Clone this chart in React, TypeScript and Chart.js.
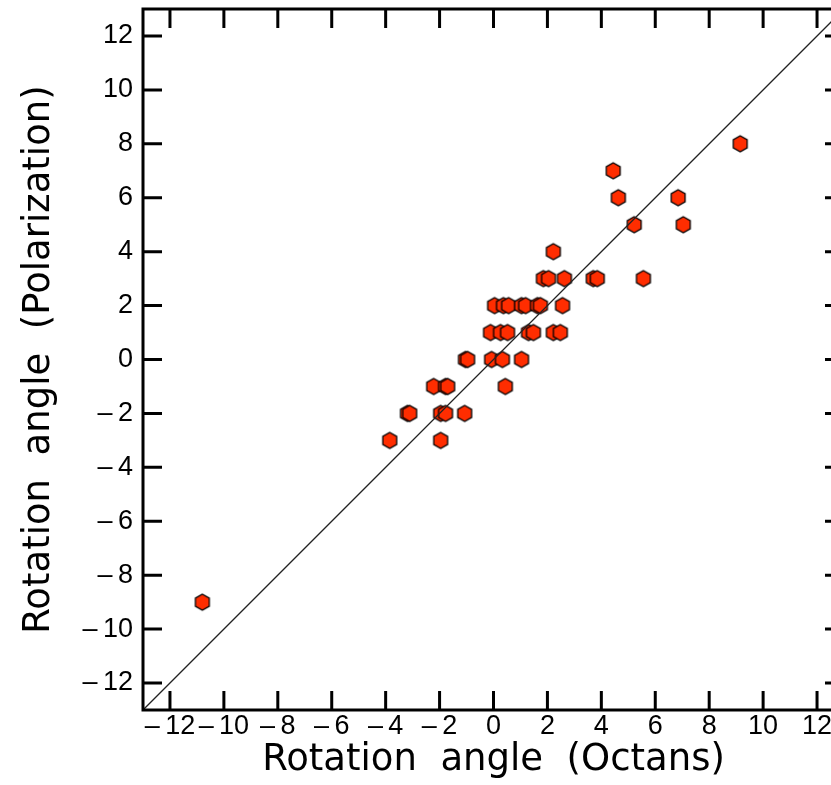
import React, { useEffect, useRef } from "react";
import { Chart, registerables } from "chart.js";

Chart.register(...registerables);

// Data
const octans = [
  -10.8,
  -3.85, -1.96,
  -3.19, -3.11, -1.96, -1.78, -1.07,
  -2.22, -1.78, -1.7, 0.44,
  -1.04, -0.96, -0.07, 0.33, 1.04,
  -0.11, 0.26, 0.52, 1.3, 1.48, 2.22, 2.48,
  0.04, 0.37, 0.56, 1.04, 1.19, 1.63, 1.74, 2.56,
  1.85, 2.04, 2.63, 3.7, 3.85, 5.56,
  2.22,
  5.22, 7.04,
  4.63, 6.85,
  4.44,
  9.15,
];
const polarization = [
  -9,
  -3, -3,
  -2, -2, -2, -2, -2,
  -1, -1, -1, -1,
  0, 0, 0, 0, 0,
  1, 1, 1, 1, 1, 1, 1,
  2, 2, 2, 2, 2, 2, 2, 2,
  3, 3, 3, 3, 3, 3,
  4,
  5, 5,
  6, 6,
  7,
  8,
];
const lineX = [-13, 13];
const lineY = [-13, 13];
const xTicks = [-12, -10, -8, -6, -4, -2, 0, 2, 4, 6, 8, 10, 12];
const yTicks = [-12, -10, -8, -6, -4, -2, 0, 2, 4, 6, 8, 10, 12];
const xTitle = "Rotation  angle  (Octans)";
const yTitle = "Rotation  angle  (Polarization)";

function makeHexagon(): HTMLCanvasElement {
  const c = document.createElement("canvas");
  c.width = 20;
  c.height = 20;
  const g = c.getContext("2d")!;
  const r = 8;
  g.beginPath();
  for (let i = 0; i < 6; i++) {
    const a = -Math.PI / 2 + (i * Math.PI) / 3;
    const px = 10 + r * Math.cos(a);
    const py = 10 + r * Math.sin(a);
    if (i === 0) g.moveTo(px, py);
    else g.lineTo(px, py);
  }
  g.closePath();
  g.fillStyle = "#ff2d00";
  g.fill();
  g.lineWidth = 1.3;
  g.strokeStyle = "#000";
  g.stroke();
  return c;
}

const fmt = (v: number) => (v < 0 ? "\u2013\u2009" + Math.abs(v) : String(v));

const framePlugin = {
  id: "frame",
  afterDraw(chart: any) {
    const { ctx, chartArea } = chart;
    const { left, right, top, bottom } = chartArea;
    const x = chart.scales.x;
    const y = chart.scales.y;
    const tl = 19;
    ctx.save();
    ctx.strokeStyle = "#000";
    ctx.lineWidth = 3;
    ctx.lineCap = "butt";
    ctx.strokeRect(left, top, right - left, bottom - top);
    ctx.beginPath();
    xTicks.forEach((v) => {
      const p = x.getPixelForValue(v);
      ctx.moveTo(p, bottom);
      ctx.lineTo(p, bottom - tl);
      ctx.moveTo(p, top);
      ctx.lineTo(p, top + tl);
    });
    yTicks.forEach((v) => {
      const p = y.getPixelForValue(v);
      ctx.moveTo(left, p);
      ctx.lineTo(left + tl, p);
      ctx.moveTo(right, p);
      ctx.lineTo(right - tl, p);
    });
    ctx.stroke();
    ctx.restore();
  },
};

export default function App() {
  const ref = useRef<HTMLCanvasElement>(null);
  useEffect(() => {
    if (!ref.current) return;
    const hex = makeHexagon();
    const chart = new Chart(ref.current, {
      type: "scatter",
      data: {
        datasets: [
          {
            type: "line",
            data: lineX.map((v, i) => ({ x: v, y: lineY[i] })),
            borderColor: "#222",
            borderWidth: 1.3,
            pointRadius: 0,
            fill: false,
          },
          {
            data: octans.map((v, i) => ({ x: v, y: polarization[i] })),
            pointStyle: hex as any,
            pointRadius: 8,
            backgroundColor: "#ff2d00",
            borderColor: "#000",
          },
        ],
      } as any,
      options: {
        animation: false,
        responsive: false,
        devicePixelRatio: 1,
        layout: { padding: { top: 8, left: 0, right: 16, bottom: 0 } },
        plugins: { legend: { display: false }, tooltip: { enabled: false } },
        scales: {
          x: {
            type: "linear",
            min: -13,
            max: 13,
            grid: { display: false, drawTicks: false },
            border: { display: false },
            afterBuildTicks: (s: any) => {
              s.ticks = xTicks.map((v) => ({ value: v }));
            },
            afterFit: (s: any) => {
              s.height = 75;
              s.paddingLeft = 0;
              s.paddingRight = 0;
            },
            ticks: {
              autoSkip: false,
              maxRotation: 0,
              padding: 0,
              color: "#000",
              font: { family: "'Liberation Sans'", size: 27 },
              callback: (v: any) => fmt(Number(v)),
            },
            title: {
              display: true,
              text: xTitle,
              color: "#000",
              font: { family: "'DejaVu Sans'", size: 37, lineHeight: 1.2 },
              padding: { top: 0, bottom: 2 },
            },
          },
          y: {
            type: "linear",
            min: -13,
            max: 13,
            grid: { display: false, drawTicks: false },
            border: { display: false },
            afterBuildTicks: (s: any) => {
              s.ticks = yTicks.map((v) => ({ value: v }));
            },
            afterFit: (s: any) => {
              s.width = 143;
              s.paddingTop = 0;
              s.paddingBottom = 0;
            },
            ticks: {
              autoSkip: false,
              padding: 10,
              color: "#000",
              font: { family: "'Liberation Sans'", size: 27 },
              callback: (v: any) => fmt(Number(v)),
            },
            title: {
              display: true,
              text: yTitle,
              color: "#000",
              font: { family: "'DejaVu Sans'", size: 37, lineHeight: 1.2 },
              padding: { top: 17, bottom: 0 },
            },
          },
        },
      } as any,
      plugins: [framePlugin],
    });
    return () => chart.destroy();
  }, []);
  return (
    <div
      style={{
        position: "fixed",
        left: 0,
        top: 0,
        width: 831,
        height: 785,
        overflow: "hidden",
        background: "#fff",
      }}
    >
      <canvas ref={ref} width={860} height={785} style={{ display: "block" }} />
    </div>
  );
}
